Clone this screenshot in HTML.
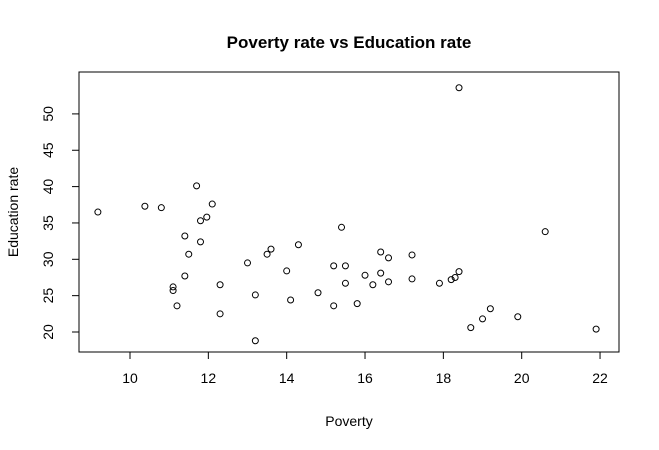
<!DOCTYPE html>
<html><head><meta charset="utf-8"><style>body{margin:0;background:#fff}svg{display:block;font-family:"Liberation Sans",Arial,sans-serif}</style></head>
<body>
<svg id="chart" width="659" height="450">
<text x="349" y="48" text-anchor="middle" font-size="17" font-weight="bold">Poverty rate vs Education rate</text>
<text x="349" y="426" text-anchor="middle" font-size="14">Poverty</text>
<text transform="translate(18,212) rotate(-90)" text-anchor="middle" font-size="14">Education rate</text>
<rect x="79" y="72" width="540" height="280" fill="none" stroke="#000"/>
<g id="axes"></g><g id="pts"></g>
</svg>
<script>
const xTicks=[10,12,14,16,18,20,22];
const yTicks=[20,25,30,35,40,45,50];
const poverty=[9.18,10.38,10.8,11.1,11.1,11.2,11.4,11.4,11.5,11.7,11.8,11.8,11.96,12.1,12.3,12.3,13.0,13.2,13.2,13.5,13.6,14.0,14.1,14.3,14.8,15.2,15.2,15.4,15.5,15.5,15.8,16.0,16.2,16.4,16.4,16.6,16.6,17.2,17.2,17.9,18.2,18.3,18.4,18.4,18.7,19.0,19.2,19.9,20.6,21.9];
const education=[36.5,37.3,37.1,26.2,25.7,23.6,33.2,27.7,30.7,40.1,35.3,32.4,35.8,37.6,26.5,22.5,29.5,25.1,18.8,30.7,31.4,28.4,24.4,32.0,25.4,29.1,23.6,34.4,29.1,26.7,23.9,27.8,26.5,31.0,28.1,30.2,26.9,30.6,27.3,26.7,27.2,27.5,28.3,53.6,20.6,21.8,23.2,22.1,33.8,20.4];
const NS="http://www.w3.org/2000/svg";
const X=v=>130+(v-10)*39.17, Y=v=>332-(v-20)*7.27;
const ax=document.getElementById('axes'), pg=document.getElementById('pts');
function mk(tag,a,p){const e=document.createElementNS(NS,tag);for(const k in a)e.setAttribute(k,a[k]);p.appendChild(e);return e;}
let l=mk('line',{x1:X(10),x2:X(22),y1:352,y2:352,stroke:'#000'},ax);


xTicks.forEach(t=>{mk('line',{x1:X(t),x2:X(t),y1:352,y2:359,stroke:'#000'},ax);
const tx=mk('text',{x:X(t),y:383,'text-anchor':'middle','font-size':14},ax);tx.textContent=t;

});
l=mk('line',{x1:79,x2:79,y1:Y(20),y2:Y(50),stroke:'#000'},ax);


yTicks.forEach(t=>{mk('line',{x1:72,x2:79,y1:Y(t),y2:Y(t),stroke:'#000'},ax);
const tx=mk('text',{transform:`translate(53,${Y(t)}) rotate(-90)`,'text-anchor':'middle','font-size':14},ax);tx.textContent=t;

});
poverty.forEach((p,i)=>{const c=mk('circle',{cx:X(p),cy:Y(education[i]),r:3,fill:'none',stroke:'#000'},pg);

});
</script>
</body></html>
